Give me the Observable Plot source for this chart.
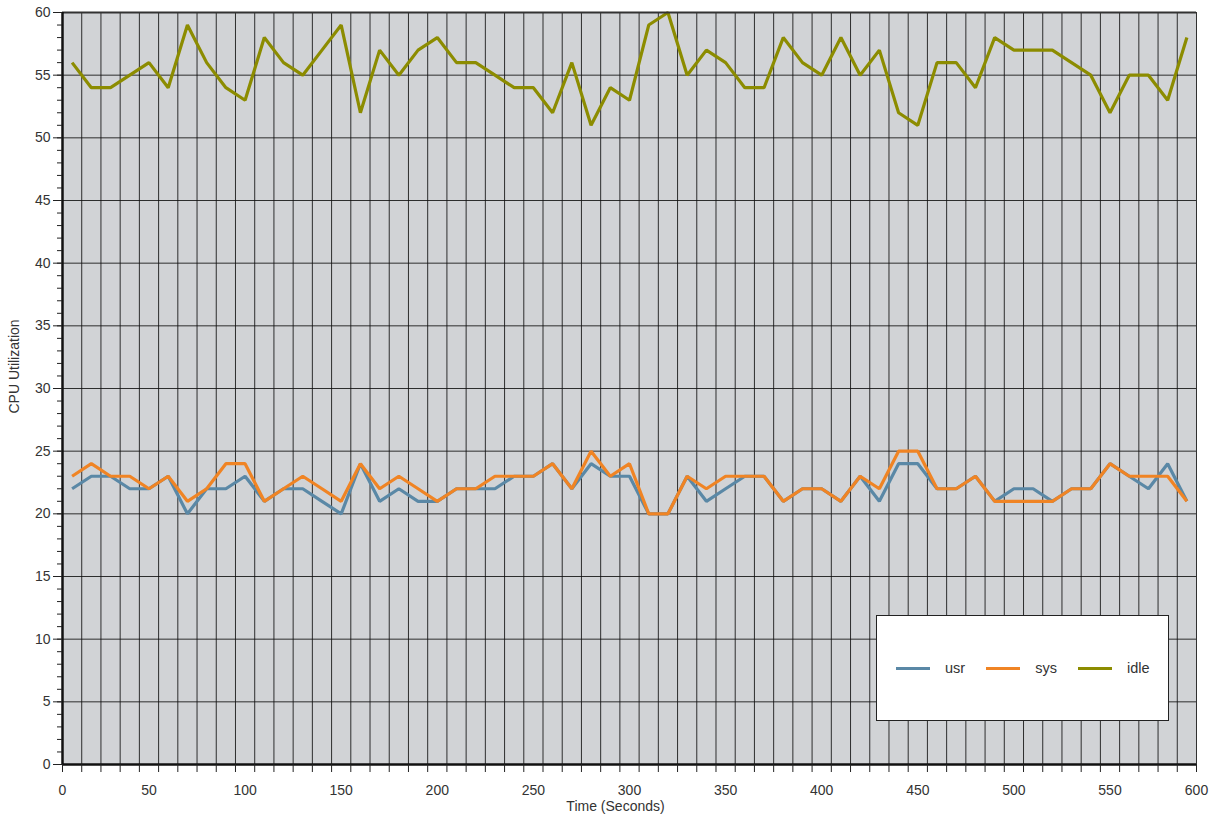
<!DOCTYPE html>
<html>
<head>
<meta charset="utf-8">
<script src="https://cdn.jsdelivr.net/npm/d3@7"></script>
<script src="https://cdn.jsdelivr.net/npm/@observablehq/plot@0.6"></script>
<style>
  html, body { margin: 0; padding: 0; background: #fff; }
  #wrap { position: relative; width: 1225px; height: 821px; font-family: "Liberation Sans", Arial, sans-serif; }
  #legend { position: absolute; left: 876px; top: 615px; width: 293px; height: 106px; background: #fff;
            border: 1.5px solid #222; display: flex; align-items: center; padding-left: 19px; box-sizing: border-box; }
  #legend .item { display: flex; align-items: center; margin-right: 21px; font-size: 14.5px; color: #333; }
  #legend .sw { width: 34px; height: 3px; margin-right: 15px; }
</style>
</head>
<body>
<div id="wrap"></div>
<script>
// ---- data ----
const times = [10,20,30,40,50,60,70,80,90,100,110,120,130,140,150,160,170,180,190,200,
               210,220,230,240,250,260,270,280,290,300,310,320,330,340,350,360,370,380,390,400,
               410,420,430,440,450,460,470,480,490,500,510,520,530,540,550,560,570,580,590];
const usr  = [22,23,23,22,22,23,20,22,22,23,21,22,22,21,20,24,21,22,21,21,
              22,22,22,23,23,24,22,24,23,23,20,20,23,21,22,23,23,21,22,22,
              21,23,21,24,24,22,22,23,21,22,22,21,22,22,24,23,22,24,21];
const sys  = [23,24,23,23,22,23,21,22,24,24,21,22,23,22,21,24,22,23,22,21,
              22,22,23,23,23,24,22,25,23,24,20,20,23,22,23,23,23,21,22,22,
              21,23,22,25,25,22,22,23,21,21,21,21,22,22,24,23,23,23,21];
const idle = [56,54,54,55,56,54,59,56,54,53,58,56,55,57,59,52,57,55,57,58,
              56,56,55,54,54,52,56,51,54,53,59,60,55,57,56,54,54,58,56,55,
              58,55,57,52,51,56,56,54,58,57,57,57,56,55,52,55,55,53,58];
const seriesNames = ["usr", "sys", "idle"];
const seriesColors = ["#5a88a6", "#f08424", "#8c8c00"];
const xTickPositions = [5,50,100,150,200,250,300,350,400,450,500,550,595];
const xTickLabels = ["0","50","100","150","200","250","300","350","400","450","500","550","600"];
const yMajor = [0,5,10,15,20,25,30,35,40,45,50,55,60];

const seriesValues = [usr, sys, idle];
const rows = seriesNames.map((name, s) => times.map((t, i) => ({t, v: seriesValues[s][i], s: name})));
const xLabelOf = new Map(xTickPositions.map((p, i) => [p, xTickLabels[i]]));
const xGrid = d3.range(5, 596, 10);
const yMinor = d3.range(0, 61, 1);

const chart = Plot.plot({
  width: 1225,
  height: 821,
  marginLeft: 62,
  marginRight: 29,
  marginTop: 12,
  marginBottom: 57,
  style: { fontFamily: "Liberation Sans, Arial, sans-serif", fontSize: "14px", color: "#333", background: "#fff" },
  x: { domain: [5, 595] },
  y: { domain: [0, 60] },
  marks: [
    Plot.frame({ fill: "#d1d3d6", stroke: null }),
    Plot.gridX(xGrid, { stroke: "#111", strokeOpacity: 0.85, strokeWidth: 1 }),
    Plot.gridY(yMajor, { stroke: "#111", strokeOpacity: 0.85, strokeWidth: 1 }),
    ...rows.map((r, s) => Plot.line(r, { x: "t", y: "v", stroke: seriesColors[s], strokeWidth: 3.2, strokeLinejoin: "miter", strokeLinecap: "butt" })),
    Plot.ruleY([60], { stroke: "#333", strokeWidth: 2 }),
    Plot.ruleX([5], { stroke: "#111", strokeWidth: 2.5 }),
    Plot.ruleY([0], { stroke: "#111", strokeWidth: 2.5 }),
    Plot.axisX({ ticks: xGrid, tickSize: 8, tickFormat: () => "", stroke: "#222", label: null }),
    Plot.axisX({ ticks: xTickPositions, tickSize: 0, tickPadding: 21, tickFormat: d => xLabelOf.get(d), label: null, fill: "#333", fontSize: 14 }),
    Plot.axisY({ ticks: yMinor, tickSize: 5, tickFormat: () => "", stroke: "#222", label: null }),
    Plot.axisY({ ticks: yMajor, tickSize: 9, tickPadding: 3, stroke: "#222", label: null, fill: "#333", fontSize: 14 }),
    Plot.text(["Time (Seconds)"], { frameAnchor: "bottom", dy: 46, dx: -14, fontSize: 14, fill: "#333" }),
    Plot.text(["CPU Utilization"], { frameAnchor: "left", rotate: -90, textAnchor: "middle", dx: -48, dy: -22, fontSize: 14, fill: "#333" })
  ]
});

const wrap = document.getElementById("wrap");
wrap.appendChild(chart);

const legend = d3.select(wrap).append("div").attr("id", "legend");
seriesNames.forEach((name, i) => {
  const item = legend.append("div").attr("class", "item");
  item.append("div").attr("class", "sw").style("background", seriesColors[i]);
  item.append("span").text(name);
});
</script>
</body>
</html>
